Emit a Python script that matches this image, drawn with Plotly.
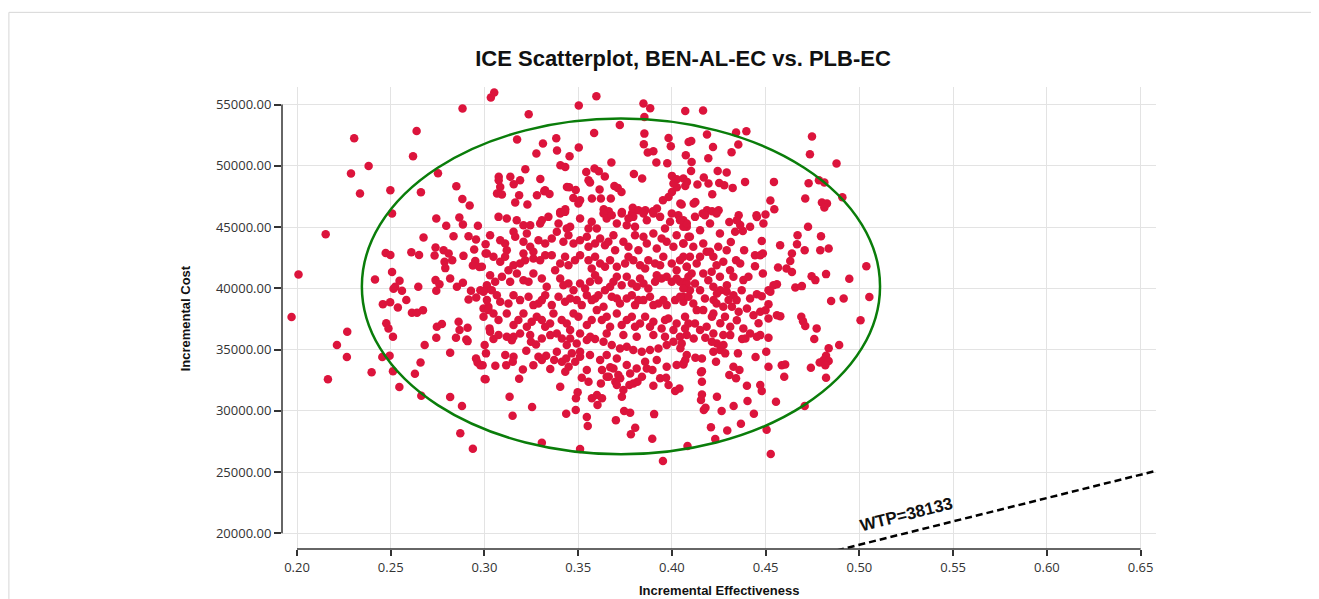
import plotly.graph_objects as go

# ---------------- data ----------------
pts_upper_left = [
    (0.3034, 55570), (0.3052, 55980), (0.2883, 54674), (0.2305, 52250), (0.2638, 52850),
    (0.2619, 50780), (0.2382, 49990), (0.2288, 49370), (0.2752, 49395), (0.2850, 48335),
    (0.2336, 47740), (0.2498, 48010), (0.2661, 47850), (0.2882, 47300), (0.2921, 46760),
    (0.2507, 46110), (0.3236, 54210), (0.3174, 52145), (0.3277, 51000), (0.3312, 51820),
    (0.3383, 52250), (0.3387, 51250), (0.3405, 50050), (0.3431, 49910), (0.3454, 50780),
    (0.3218, 49720), (0.3298, 48930), (0.3076, 49100), (0.3076, 48820), (0.3084, 48280),
    (0.3138, 49100), (0.3156, 48500), (0.3190, 48820), (0.3440, 48280), (0.3323, 48010),
]
pts_upper_mid = [
    (0.3597, 55680), (0.3503, 54920), (0.3848, 55080), (0.3884, 54700), (0.3722, 53340),
    (0.3585, 52680), (0.3853, 53990), (0.3853, 52630), (0.3982, 52275), (0.4089, 51950),
    (0.3994, 51600), (0.3850, 51760), (0.3503, 51490), (0.3871, 51080), (0.3901, 51190),
    (0.4074, 50860), (0.3677, 50270), (0.3917, 50270), (0.3975, 50210), (0.3543, 49500),
    (0.3587, 49780), (0.3610, 49560), (0.3642, 49130), (0.3797, 49340), (0.3841, 48960),
    (0.4000, 49180), (0.4026, 48910), (0.4061, 48960), (0.3555, 48820), (0.3563, 48640),
    (0.3452, 48250), (0.3487, 48030), (0.3693, 48360), (0.3711, 48200), (0.3731, 47870),
    (0.3614, 48070), (0.3067, 47740), (0.3093, 47660), (0.3280, 47600), (0.3319, 47930),
    (0.3347, 47710), (0.3185, 47600), (0.3164, 47010), (0.3229, 46840), (0.3474, 47380),
    (0.3510, 47190), (0.3501, 46920), (0.3573, 47330), (0.3621, 47330), (0.3674, 47330),
    (0.3791, 46570), (0.3821, 46380), (0.3952, 47190), (0.3982, 47460), (0.4000, 47870),
    (0.4026, 48250), (0.4008, 48560), (0.4052, 46840), (0.3404, 46240), (0.3431, 46460),
    (0.3636, 46460), (0.3663, 46300), (0.3733, 46240), (0.3787, 46110), (0.3858, 46380),
    (0.3899, 46300), (0.3920, 46520),
]
pts_upper_right = [
    (0.4071, 54480), (0.4166, 54510), (0.4187, 52550), (0.4342, 52720), (0.4397, 52820),
    (0.4103, 52030), (0.4219, 51540), (0.4354, 51740), (0.4318, 51110), (0.4194, 50620),
    (0.4105, 50320), (0.4747, 52390), (0.4736, 50950), (0.4878, 50190), (0.4102, 49580),
    (0.4244, 49580), (0.4292, 49450), (0.4170, 49040), (0.4080, 48690), (0.4071, 48360),
    (0.4136, 48470), (0.4195, 48560), (0.4252, 48600), (0.4279, 48420), (0.4324, 48200),
    (0.4390, 48690), (0.4544, 48690), (0.4729, 48580), (0.4784, 48820), (0.4813, 48640),
    (0.4215, 47680), (0.4045, 46920), (0.4116, 46920), (0.4125, 47050), (0.4525, 47170),
    (0.4546, 46460), (0.4711, 47330), (0.4800, 47000), (0.4827, 46920), (0.4813, 46600),
    (0.4909, 47440), (0.4187, 46380), (0.4214, 46300), (0.4249, 46380), (0.4356, 45970),
    (0.4451, 45970), (0.4499, 46030), (0.4164, 46110),
]
pts_mid_left = [
    (0.2743, 45700), (0.2866, 45780), (0.2796, 45100), (0.2885, 45210), (0.2965, 45100),
    (0.2153, 44420), (0.2675, 44150), (0.2835, 44260), (0.2915, 44260), (0.2955, 43990),
    (0.3006, 43600), (0.2739, 43330), (0.2782, 43110), (0.2809, 42850), (0.2945, 43170),
    (0.2473, 42890), (0.2498, 42730), (0.2610, 42950), (0.2651, 42730), (0.2734, 42680),
    (0.2888, 42650), (0.2828, 42300), (0.3006, 42850), (0.2951, 42240), (0.2938, 41870),
    (0.2973, 41750), (0.2787, 42160), (0.2791, 41650), (0.2008, 41130), (0.2507, 41340),
    (0.2416, 40720), (0.2817, 40810), (0.2885, 40450), (0.2547, 40610), (0.2524, 40120),
    (0.2515, 39960), (0.2647, 40120), (0.2739, 40670), (0.2760, 40340), (0.2743, 39800),
    (0.2853, 40120), (0.2928, 39800), (0.2978, 39850), (0.3013, 39960), (0.2560, 39800),
    (0.2583, 39040), (0.2458, 38710), (0.2497, 38870), (0.2538, 38440), (0.2613, 38000),
    (0.2640, 38000), (0.2672, 38220), (0.2915, 39090), (0.2956, 39260), (0.2995, 38360),
    (0.3021, 38490), (0.1971, 37650), (0.2268, 36450), (0.2476, 37140), (0.2488, 36730),
    (0.2512, 36040), (0.2746, 36860), (0.2773, 37080), (0.2862, 37270), (0.2867, 36590),
    (0.2910, 36780), (0.2743, 35960), (0.2848, 35960), (0.2903, 35830), (0.3027, 36730),
]
pts_low_left = [
    (0.2213, 35370), (0.2910, 35690), (0.2266, 34390), (0.2455, 34390), (0.2494, 34490),
    (0.2681, 35370), (0.2817, 34740), (0.3001, 35370), (0.3008, 34690), (0.2955, 34280),
    (0.2963, 33950), (0.2990, 33730), (0.2165, 32570), (0.2398, 33140), (0.2512, 33240),
    (0.2659, 33950), (0.2629, 33030), (0.2546, 31940), (0.3006, 32570), (0.2663, 31230),
    (0.2817, 31120), (0.2880, 30390), (0.2871, 28160), (0.2938, 26910), (0.3306, 27400),
]
pts_low_mid = [
    (0.3048, 35860), (0.3146, 35770), (0.3155, 36040), (0.3248, 35630), (0.3275, 35420),
    (0.3351, 36180), (0.3413, 35910), (0.2978, 33730), (0.3058, 33680), (0.3111, 34550),
    (0.3155, 34410), (0.3151, 34000), (0.3116, 33730), (0.3223, 34900), (0.3288, 34410),
    (0.3306, 34140), (0.3329, 34490), (0.3261, 33730), (0.3205, 33380), (0.3001, 32590),
    (0.3185, 32620), (0.3351, 33410), (0.3372, 34140), (0.3413, 34000), (0.3436, 34280),
    (0.3449, 33600), (0.3431, 33190), (0.3466, 34690), (0.3484, 34000), (0.3510, 34410),
    (0.3404, 31960), (0.3134, 31150), (0.3150, 29600), (0.3254, 30310), (0.3497, 31510),
    (0.3488, 31020), (0.3436, 29760), (0.3487, 30070), (0.3510, 26880), (0.3519, 32700),
    (0.3555, 32370), (0.3546, 33330), (0.3573, 31020), (0.3600, 31290), (0.3603, 30470),
    (0.3627, 31020), (0.3546, 29490), (0.3551, 28760), (0.3621, 32240), (0.3627, 33330),
    (0.3663, 32780), (0.3671, 33550), (0.3698, 32370), (0.3724, 32650), (0.3706, 32100),
    (0.3701, 29240), (0.3733, 31150), (0.3741, 31700), (0.3745, 29980), (0.3777, 29840),
    (0.3781, 28080), (0.3804, 28620), (0.3773, 32100), (0.3795, 32240), (0.3816, 32370),
    (0.3840, 32780), (0.3866, 33460), (0.3896, 33330), (0.3901, 32040), (0.3905, 29730),
    (0.3895, 27720), (0.3952, 25900), (0.3937, 32650), (0.3969, 32700), (0.3982, 32100),
    (0.4017, 31610), (0.4040, 31830), (0.4083, 27130), (0.4061, 33790),
    (0.3492, 35502), (0.3546, 35774), (0.3590, 35856), (0.3635, 35638), (0.3679, 35366),
    (0.3723, 35094), (0.3759, 35230), (0.3794, 34958), (0.3839, 34823), (0.3883, 34958),
    (0.3928, 35094), (0.3972, 35366), (0.4008, 35638), (0.4052, 35502), (0.3510, 34823),
    (0.3563, 34551), (0.3617, 34143), (0.3652, 34551), (0.3706, 34279), (0.3759, 33735),
    (0.3812, 33463), (0.3857, 34007), (0.3919, 34143), (0.3972, 33599), (0.4025, 33735),
    (0.4079, 34551), (0.3386, 34823), (0.3439, 35366), (0.3688, 33463), (0.3777, 33055),
    (0.3652, 32783), (0.3714, 32919),
]
pts_low_right = [
    (0.4759, 35860), (0.4892, 35370), (0.4836, 35100), (0.4822, 34490), (0.4809, 34140),
    (0.4788, 33950), (0.4836, 34060), (0.4818, 33730), (0.4741, 33520), (0.4822, 32700),
    (0.4708, 30390), (0.4555, 30740), (0.4515, 33600), (0.4503, 34820), (0.4515, 35960),
    (0.4586, 33730), (0.4604, 33790), (0.4599, 32780), (0.4505, 28460), (0.4527, 26480),
    (0.4471, 32100), (0.4479, 31610), (0.4400, 32040), (0.4403, 30800), (0.4437, 29760),
    (0.4368, 28950), (0.4295, 28400), (0.4231, 27700), (0.4208, 28650), (0.4265, 29980),
    (0.4329, 30390), (0.4170, 30070), (0.4179, 30250), (0.4240, 31150), (0.4160, 31340),
    (0.4155, 30880), (0.4160, 32370), (0.4160, 33240), (0.4155, 33140), (0.4306, 32920),
    (0.4342, 32650), (0.4328, 33600), (0.4360, 33330), (0.4446, 34390), (0.4352, 34690),
    (0.4125, 34330), (0.4160, 34280), (0.4061, 33870), (0.4071, 34140), (0.4235, 34000),
    (0.4221, 34820), (0.4257, 34960), (0.4284, 34690), (0.4275, 35370), (0.4240, 35500),
    (0.4213, 35630), (0.4116, 35910), (0.4178, 35960), (0.4045, 35100), (0.4392, 35910),
    (0.4374, 35860), (0.4471, 36180), (0.4311, 36180),
]
pts_mid_right = [
    (0.4726, 45020), (0.4670, 44340), (0.4667, 43600), (0.4708, 43110), (0.4795, 44260),
    (0.4791, 43110), (0.4836, 43250), (0.4577, 43520), (0.4640, 42850), (0.4631, 42240),
    (0.4640, 41340), (0.4566, 41700), (0.4611, 41620), (0.4745, 40990), (0.4765, 40670),
    (0.4822, 41160), (0.4946, 40780), (0.5037, 41810), (0.5053, 39300), (0.4916, 39170),
    (0.4849, 38960), (0.5006, 37400), (0.4658, 40070), (0.4693, 40180), (0.4560, 40340),
    (0.4525, 39720), (0.4515, 38710), (0.4690, 37680), (0.4699, 37320), (0.4711, 36920),
    (0.4772, 36730), (0.4443, 41810), (0.4485, 41210), (0.4479, 43870), (0.4485, 42850),
    (0.4488, 45290), (0.4453, 45830), (0.4417, 45020), (0.4378, 44690), (0.4337, 44610),
    (0.4364, 45160), (0.4346, 45560), (0.4306, 45420), (0.4314, 43790), (0.4385, 43110),
    (0.4443, 42700), (0.4471, 42700), (0.4342, 42300), (0.4364, 42030), (0.4328, 40940),
    (0.4381, 40670), (0.4408, 40940), (0.4417, 39170), (0.4453, 39520), (0.4479, 39360),
    (0.4515, 39850), (0.4542, 40260), (0.4320, 38490), (0.4356, 38080), (0.4400, 38360),
    (0.4435, 37810), (0.4462, 37140), (0.4515, 37540), (0.4560, 37810), (0.4578, 37730),
    (0.4258, 39850), (0.4293, 40260), (0.4328, 39440), (0.4302, 39040), (0.4222, 39040),
    (0.4240, 39580), (0.4213, 37680), (0.4258, 37140), (0.4311, 36860), (0.4346, 37400),
    (0.4381, 36730), (0.4417, 36320), (0.4453, 36040), (0.4471, 38080), (0.4499, 38220),
    (0.4061, 45562), (0.4079, 45019), (0.4123, 45834), (0.4150, 44747), (0.4176, 45970),
    (0.4203, 45290), (0.4238, 46106), (0.4256, 44475), (0.4061, 43659), (0.4114, 43387),
    (0.4185, 42979), (0.4221, 42571), (0.4274, 42164), (0.4079, 41756), (0.4132, 42028),
    (0.4167, 41212), (0.4212, 41348), (0.4070, 40532), (0.4123, 40396), (0.4150, 39852),
    (0.4194, 40668), (0.4256, 40940), (0.4061, 39309), (0.4114, 38765), (0.4167, 38221),
    (0.4070, 37677), (0.4123, 37133), (0.4185, 36861), (0.4221, 36318), (0.4079, 36182),
    (0.4274, 38493), (0.4247, 43387), (0.4150, 42571),
    (0.4096, 44203), (0.4167, 43659), (0.4203, 42979), (0.4292, 43115), (0.4096, 42571),
    (0.4238, 41892), (0.4310, 41484), (0.4105, 41212), (0.4221, 40124), (0.4292, 39716),
    (0.4096, 39852), (0.4176, 39173), (0.4238, 38765), (0.4132, 38221), (0.4221, 37949),
    (0.4283, 37677), (0.4150, 36590), (0.4274, 36182), (0.4345, 39037), (0.4372, 39852),
]
pts_core = [
    (0.3119, 45698), (0.3208, 45154), (0.3244, 45154), (0.3297, 45290), (0.3306, 45562),
    (0.3395, 45290), (0.3404, 46106), (0.3430, 46242), (0.3439, 44883), (0.3457, 45019),
    (0.3555, 44883), (0.3599, 44883), (0.3635, 46106), (0.3652, 45698), (0.3679, 45970),
    (0.3732, 46106), (0.3759, 45154), (0.3794, 45834), (0.3803, 45019), (0.3848, 46106),
    (0.3866, 45562), (0.3901, 46106), (0.3937, 45834), (0.3999, 46106), (0.3990, 45426),
    (0.4034, 45970), (0.4061, 45019), (0.4079, 45290),
    (0.3155, 44611), (0.3164, 44203), (0.3110, 43659), (0.3119, 43115), (0.3208, 43795),
    (0.3244, 43387), (0.3288, 43931), (0.3324, 43659), (0.3386, 44611), (0.3475, 43659),
    (0.3510, 43931), (0.3546, 44203), (0.3555, 43387), (0.3590, 43659), (0.3643, 43523),
    (0.3688, 44339), (0.3697, 43115), (0.3741, 43795), (0.3803, 44339), (0.3848, 44203),
    (0.3866, 43659), (0.3901, 44475), (0.3945, 44067), (0.3972, 43795), (0.4008, 43387),
    (0.4061, 43659), (0.4088, 44203),
    (0.3048, 42571), (0.3110, 42571), (0.3155, 41892), (0.3217, 42300), (0.3261, 42435),
    (0.3324, 42707), (0.3430, 42571), (0.3448, 41892), (0.3510, 42707), (0.3555, 42300),
    (0.3572, 41620), (0.3617, 42028), (0.3670, 42300), (0.3706, 41756), (0.3750, 42028),
    (0.3794, 42300), (0.3830, 41892), (0.3874, 42300), (0.3910, 42028), (0.3954, 42571),
    (0.3999, 42028), (0.4043, 42300), (0.4079, 41756), (0.3261, 42979), (0.3208, 42843),
    (0.2986, 41756), (0.3013, 40260), (0.3057, 40532), (0.3128, 41484), (0.3137, 40532),
    (0.3173, 41212), (0.3208, 40668), (0.3235, 40532), (0.3306, 40804), (0.3377, 41484),
    (0.3404, 40804), (0.3448, 40396), (0.3475, 39852), (0.3510, 40396), (0.3537, 39988),
    (0.3608, 40668), (0.3643, 39852), (0.3688, 40532), (0.3706, 40940), (0.3759, 40940),
    (0.3786, 40396), (0.3830, 40804), (0.3874, 39988), (0.3910, 40532), (0.3945, 40804),
    (0.3972, 40940), (0.3999, 40532), (0.4043, 40532), (0.4079, 40396), (0.4061, 39988),
    (0.2995, 39716), (0.3039, 39852), (0.3084, 38901), (0.3128, 38765), (0.3190, 39037),
    (0.3235, 39309), (0.3288, 38765), (0.3324, 39444), (0.3359, 38629), (0.3395, 39309),
    (0.3430, 38901), (0.3492, 39037), (0.3546, 39444), (0.3590, 39173), (0.3635, 38493),
    (0.3679, 39309), (0.3723, 38765), (0.3759, 39173), (0.3803, 38629), (0.3848, 39037),
    (0.3883, 39309), (0.3928, 38765), (0.3972, 38629), (0.4017, 39037), (0.4061, 38901),
    (0.4088, 39309),
    (0.3021, 38221), (0.3075, 37405), (0.3119, 37949), (0.3155, 36997), (0.3208, 37949),
    (0.3252, 37269), (0.3279, 37677), (0.3324, 36861), (0.3368, 37949), (0.3412, 37405),
    (0.3457, 36590), (0.3501, 37677), (0.3546, 36997), (0.3599, 38221), (0.3626, 37405),
    (0.3670, 36861), (0.3706, 37949), (0.3759, 37405), (0.3803, 36861), (0.3857, 37677),
    (0.3901, 37269), (0.3945, 36726), (0.3981, 37541), (0.4025, 37133), (0.4070, 36726),
    (0.3030, 36454), (0.3119, 36046), (0.3244, 36182), (0.3386, 36318), (0.3564, 36046),
    (0.3741, 36182), (0.3901, 36182), (0.4043, 36046),
]
pts_core_extra = [
    (0.3075, 45834), (0.3172, 45562), (0.3341, 45834), (0.3510, 45698), (0.3572, 45426),
    (0.3706, 45290), (0.3768, 45698), (0.3963, 44883), (0.4043, 45562), (0.3030, 44339),
    (0.3084, 43931), (0.3226, 44475), (0.3359, 44067), (0.3421, 43795), (0.3448, 44339),
    (0.3617, 44067), (0.3661, 43795), (0.3768, 43387), (0.3821, 43115), (0.3919, 43251),
    (0.4025, 44339), (0.3013, 42843), (0.3084, 42164), (0.3190, 42028), (0.3297, 42300),
    (0.3359, 42707), (0.3404, 42028), (0.3483, 42300), (0.3590, 42571), (0.3643, 41756),
    (0.3768, 42571), (0.3857, 41620), (0.3937, 41892), (0.4025, 41484), (0.4061, 42571),
    (0.3030, 41076), (0.3093, 40940), (0.3261, 41212), (0.3332, 40124), (0.3421, 40260),
    (0.3563, 40532), (0.3590, 41076), (0.3670, 40124), (0.3732, 40260), (0.3812, 40124),
    (0.3848, 40396), (0.3919, 41076), (0.4025, 40804), (0.4088, 40940), (0.3013, 39037),
    (0.3066, 39444), (0.3155, 39444), (0.3261, 38629), (0.3306, 39037), (0.3457, 39173),
    (0.3519, 38629), (0.3572, 39037), (0.3608, 39444), (0.3706, 39173), (0.3786, 39444),
    (0.3821, 39037), (0.3901, 38629), (0.3954, 39037), (0.4043, 39309), (0.2995, 37677),
    (0.3048, 37949), (0.3181, 37405), (0.3226, 36861), (0.3306, 37405), (0.3350, 37133),
    (0.3439, 37133), (0.3475, 37949), (0.3572, 37405), (0.3652, 37677), (0.3732, 36997),
    (0.3786, 37677), (0.3830, 37133), (0.3883, 36861), (0.3963, 37405), (0.4008, 36590),
    (0.4088, 37133), (0.3075, 36182), (0.3190, 36318), (0.3306, 35910), (0.3457, 35910),
    (0.3510, 36318), (0.3652, 36318), (0.3812, 36046), (0.3963, 36046),
]

x_ticks = [0.20, 0.25, 0.30, 0.35, 0.40, 0.45, 0.50, 0.55, 0.60, 0.65]
y_ticks = [20000, 25000, 30000, 35000, 40000, 45000, 50000, 55000]
x_range = [0.1920, 0.6582]
y_range = [18719, 56436]

wtp = 38133
ellipse_center = (0.3728, 40155)
ellipse_half_axes = (0.1382, 13703)

title_text = "ICE Scatterplot, BEN-AL-EC vs. PLB-EC"
x_title = "Incremental Effectiveness"
y_title = "Incremental Cost"

# ---------------- figure ----------------
all_pts = (pts_upper_left + pts_upper_mid + pts_upper_right + pts_mid_left +
           pts_low_left + pts_low_mid + pts_low_right + pts_mid_right + pts_core +
           pts_core_extra)
eff = [p[0] for p in all_pts]
cost = [p[1] for p in all_pts]

fig = go.Figure()
fig.add_trace(go.Scatter(
    x=eff, y=cost, mode="markers",
    marker=dict(color="#DC143C", size=8.5, line=dict(width=0)),
    hoverinfo="skip", showlegend=False,
))
fig.add_trace(go.Scatter(
    x=x_range, y=[wtp * v for v in x_range], mode="lines",
    line=dict(color="black", width=2.5, dash="7px,4px"),
    hoverinfo="skip", showlegend=False,
))

cx, cy = ellipse_center
hx, hy = ellipse_half_axes
fig.add_shape(type="circle", xref="x", yref="y",
              x0=cx - hx, x1=cx + hx, y0=cy - hy, y1=cy + hy,
              line=dict(color="#0a7d0a", width=2.5), layer="above")

axis_col = "#333333"
# d3-like axis domain lines (only from first to last tick)
fig.add_shape(type="line", xref="paper", yref="y", x0=0, x1=0,
              y0=y_ticks[0], y1=y_ticks[-1], line=dict(color=axis_col, width=1.5))
fig.add_shape(type="line", xref="x", yref="paper", x0=x_ticks[0], x1=x_ticks[-1],
              y0=0, y1=0, line=dict(color=axis_col, width=1.5))

tick_font = dict(family="Open Sans, sans-serif", size=13, color="#333333")
fig.update_xaxes(
    range=x_range, tickvals=x_ticks, ticktext=[f"{v:.2f}" for v in x_ticks],
    ticks="outside", ticklen=6, tickwidth=1.5, tickcolor=axis_col,
    showgrid=True, gridcolor="#e3e3e3", gridwidth=1, zeroline=False,
    showline=False, tickfont=tick_font,
)
fig.update_yaxes(
    range=y_range, tickvals=y_ticks, ticktext=[f"{v:.2f}" for v in y_ticks],
    ticks="outside", ticklen=7, tickwidth=1.5, tickcolor=axis_col,
    showgrid=True, gridcolor="#e3e3e3", gridwidth=1, zeroline=False,
    showline=False, tickfont=tick_font,
)

W, H = 1303, 591
L, R, T, B = 273.7, 155, 78.7, 50
pw, ph = W - L - R, H - T - B

# light card frame (top and left edges of the surrounding container)
frame_col = "#d6d6d6"
fx0 = (0.5 - L) / pw
fy_top = (H - B - 4) / ph
fig.add_shape(type="line", xref="paper", yref="paper", x0=fx0, x1=(W - L) / pw,
              y0=fy_top, y1=fy_top, line=dict(color=frame_col, width=1))
fig.add_shape(type="line", xref="paper", yref="paper", x0=fx0, x1=fx0,
              y0=fy_top, y1=-B / ph, line=dict(color=frame_col, width=1))

fig.update_layout(
    width=W, height=H,
    margin=dict(l=L, r=R, t=T, b=B, autoexpand=False),
    plot_bgcolor="white", paper_bgcolor="white",
    title=dict(text=f"<b>{title_text}</b>", x=675 / W, xanchor="center",
               y=1 - 50 / H, yanchor="middle",
               font=dict(family="Arial, Liberation Sans, sans-serif", size=22, color="#111111")),
    showlegend=False,
)

fig.add_annotation(text=f"<b>{x_title}</b>", xref="paper", yref="paper",
                   x=0.5, y=-42 / ph, xanchor="center", yanchor="middle", showarrow=False,
                   font=dict(family="Arial, Liberation Sans, sans-serif", size=13, color="#111111"))
fig.add_annotation(text=f"<b>{y_title}</b>", xref="paper", yref="paper",
                   x=-96.7 / pw, y=0.5, xanchor="center", yanchor="middle", showarrow=False,
                   textangle=-90,
                   font=dict(family="Arial, Liberation Sans, sans-serif", size=13, color="#111111"))
fig.add_annotation(text=f"<b>WTP={wtp}</b>", xref="x", yref="y",
                   x=0.5253, y=21500, xanchor="center", yanchor="middle", showarrow=False,
                   textangle=-14,
                   font=dict(family="Arial, Liberation Sans, sans-serif", size=17, color="#111111"))

fig.write_html("out.html")
